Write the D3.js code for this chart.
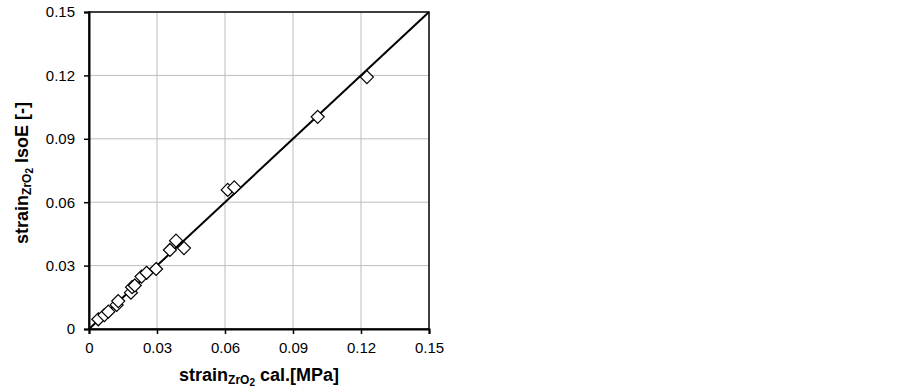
<!DOCTYPE html>
<html>
<head>
<meta charset="utf-8">
<script src="https://cdn.jsdelivr.net/npm/d3@7"></script>
<style>
  body { margin: 0; background: #fff; }
  svg { display: block; font-family: "Liberation Sans", Arial, sans-serif; }
</style>
</head>
<body>
<div id="chart"></div>
<script>
// Data
const strainCal = [0.0041, 0.0068, 0.0085, 0.0122, 0.0129, 0.0185, 0.0190, 0.0202, 0.0232, 0.0254,
                   0.0296, 0.0357, 0.0384, 0.0419, 0.0612, 0.0641, 0.1009, 0.1226];
const strainIsoE = [0.0046, 0.0066, 0.0082, 0.0114, 0.0132, 0.0172, 0.0198, 0.0206, 0.0248, 0.0266,
                    0.0284, 0.0374, 0.0418, 0.0383, 0.0658, 0.0670, 0.1004, 0.1192];
const tickValues = [0, 0.03, 0.06, 0.09, 0.12, 0.15];
const tickLabels = ['0', '0.03', '0.06', '0.09', '0.12', '0.15'];
const fitLine = [[0, 0], [0.15, 0.15]];

const width = 903;
const height = 388;
const plot = { left: 89, right: 429, top: 12, bottom: 329 };

const points = strainCal.map((x, i) => ({ x, y: strainIsoE[i] }));

const svg = d3.select('#chart')
    .append('svg')
    .attr('width', width)
    .attr('height', height);

const xScale = d3.scaleLinear().domain([0, 0.15]).range([plot.left, plot.right]);
const yScale = d3.scaleLinear().domain([0, 0.15]).range([plot.bottom, plot.top]);

// Gridlines
svg.append('g')
    .selectAll('line')
    .data(tickValues.slice(1, -1))
    .join('line')
    .attr('x1', d => xScale(d)).attr('x2', d => xScale(d))
    .attr('y1', plot.top).attr('y2', plot.bottom)
    .attr('stroke', '#bdbdbd').attr('stroke-width', 1);

svg.append('g')
    .selectAll('line')
    .data(tickValues.slice(1, -1))
    .join('line')
    .attr('y1', d => yScale(d)).attr('y2', d => yScale(d))
    .attr('x1', plot.left).attr('x2', plot.right)
    .attr('stroke', '#bdbdbd').attr('stroke-width', 1);

// Frame
svg.append('rect')
    .attr('x', plot.left).attr('y', plot.top)
    .attr('width', plot.right - plot.left).attr('height', plot.bottom - plot.top)
    .attr('fill', 'none').attr('stroke', '#000').attr('stroke-width', 1.5);

// Axes
const fmt = d => tickLabels[tickValues.indexOf(d)];

const xAxis = svg.append('g')
    .attr('transform', `translate(0,${plot.bottom})`)
    .call(d3.axisBottom(xScale).tickValues(tickValues).tickFormat(fmt).tickSize(5).tickPadding(8));

const yAxis = svg.append('g')
    .attr('transform', `translate(${plot.left},0)`)
    .call(d3.axisLeft(yScale).tickValues(tickValues).tickFormat(fmt).tickSize(5).tickPadding(9));

[xAxis, yAxis].forEach(g => {
    g.select('.domain').attr('stroke', '#000').attr('stroke-width', 2);
    g.selectAll('.tick line').attr('stroke', '#000').attr('stroke-width', 1.5);
    g.selectAll('.tick text')
        .attr('fill', '#000')
        .style('font-family', '"Liberation Sans", Arial, sans-serif')
        .style('font-size', '15px');
});

// 1:1 line
svg.append('path')
    .datum(fitLine)
    .attr('d', d3.line().x(d => xScale(d[0])).y(d => yScale(d[1])))
    .attr('stroke', '#000').attr('stroke-width', 2).attr('fill', 'none');

// Diamond markers
svg.append('g')
    .selectAll('path')
    .data(points)
    .join('path')
    .attr('transform', d => `translate(${xScale(d.x)},${yScale(d.y)})`)
    .attr('d', 'M0,-6.5L6.5,0L0,6.5L-6.5,0Z')
    .attr('fill', '#fff')
    .attr('stroke', '#000')
    .attr('stroke-width', 1.2);

// Axis titles
function addTitle(text, before, after) {
    text.append('tspan').text(before);
    text.append('tspan').attr('baseline-shift', '-25%').style('font-size', '12px').text('ZrO');
    text.append('tspan').attr('baseline-shift', '-45%').style('font-size', '10px').text('2');
    text.append('tspan').attr('baseline-shift', '0').text(after);
}

const xTitle = svg.append('text')
    .attr('x', (plot.left + plot.right) / 2)
    .attr('y', 381)
    .attr('text-anchor', 'middle')
    .style('font-size', '18px')
    .style('font-weight', 'bold');
addTitle(xTitle, 'strain', ' cal.[MPa]');

const yTitle = svg.append('text')
    .attr('transform', `translate(28,173) rotate(-90)`)
    .attr('text-anchor', 'middle')
    .style('font-size', '18px')
    .style('font-weight', 'bold');
addTitle(yTitle, 'strain', ' IsoE [-]');
</script>
</body>
</html>
